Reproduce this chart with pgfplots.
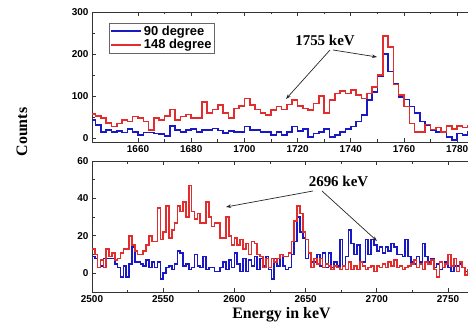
\documentclass[border=0pt]{standalone}
\usepackage{pgfplots}
\usepackage{pgfplotstable}
\pgfplotsset{compat=1.18}
\usepackage{fontspec}
\setmainfont{Liberation Sans}
\newfontfamily\timesf{Liberation Serif}
\usetikzlibrary{arrows.meta}

\definecolor{myblue}{RGB}{25,25,195}
\definecolor{myred}{RGB}{225,45,45}

\pgfplotsset{
 every axis/.append style={
  scale only axis,
  axis line style={draw=black!80, line width=0.9bp},
  tick style={draw=black!80, line width=0.8bp},
  major tick length=4bp, minor tick length=2.5bp,
  minor x tick num=1, minor y tick num=1,
  ticklabel style={font=\bfseries\fontsize{10}{12}\selectfont},
  /pgf/number format/assume math mode=true,
  /pgf/number format/1000 sep={},
 },
}

\pgfplotstableread{
k b r
0 9 13
1 8 10
2 3 3
3 4 7
4 8 3
5 8 13
6 8 9
7 8 11
8 5 7
9 3 8
10 -2 11
11 4 13
12 -2 13
13 5 20
14 14 15
15 6 12
16 6 10
17 5 10
18 4 12
19 7 15
20 3 20
21 6 17
22 3 17
23 6 35
24 -3 18
25 0 22
26 3 36
27 4 19
28 2 23
29 5 27
30 12 36
31 11 33
32 4 38
33 5 30
34 2 47
35 3 33
36 10 29
37 4 32
38 3 27
39 9 27
40 2 38
41 3 30
42 3 25
43 1 27
44 1 27
45 3 19
46 6 19
47 2 30
48 7 20
49 3 15
50 11 19
51 5 15
52 1 18
53 8 13
54 1 16
55 7 10
56 4 17
57 9 16
58 2 10
59 8 9
60 4 3
61 9 8
62 2 3
63 -3 8
64 8 6
65 4 8
66 10 10
67 4 9
68 2 9
69 3 11
70 10 17
71 17 28
72 30 36
73 22 32
74 19 22
75 8 18
76 11 11
77 6 3
78 6 8
79 10 5
80 4 8
81 11 3
82 3 5
83 11 4
84 3 2
85 6 4
86 4 3
87 18 2
88 4 4
89 9 2
90 23 6
91 16 2
92 10 4
93 15 2
94 6 6
95 6 4
96 18 2
97 10 3
98 18 4
99 15 1
100 12 4
101 14 3
102 11 5
103 14 3
104 12 6
105 16 4
106 14 7
107 10 3
108 10 4
109 9 2
110 18 3
111 9 4
112 6 5
113 5 7
114 9 3
115 6 5
116 16 2
117 9 6
118 6 5
119 8 7
120 3 2
121 5 -2
122 2 6
123 3 3
124 6 5
125 3 10
126 1 4
127 4 8
128 4 1
129 5 6
130 3 3
131 1 -1
132 2 2
133 2 2
134 2 2
135 2 2
136 2 2
137 2 2
138 2 2
}\bottomdata

\begin{document}
\begin{tikzpicture}
\useasboundingbox (0bp,0bp) rectangle (468bp,327bp);
\begin{scope}
\clip (0bp,0bp) rectangle (468bp,327bp);

\begin{axis}[at={(92bp,185bp)}, anchor=south west,
  width=391.8bp, height=130bp,
  xmin=1642.7, xmax=1790, ymin=-9.5, ymax=300,
  xtick={1660,1680,...,1780}, ytick={0,100,200,300},
  legend style={at={(0.0434,0.915)}, anchor=north west, draw=black!60,
    font=\bfseries\fontsize{13}{15}\selectfont, inner xsep=1bp, inner ysep=0.5bp,
    row sep=-1bp},
  legend cell align=left,
  legend image code/.code={\draw[#1, line width=1.7bp] (0bp,0bp) -- (30bp,0bp);},
]
\addplot[const plot, myblue, line width=1.6bp] coordinates {
(1642,43)(1644,31)(1646,15)(1648,19)(1650,15)(1652,16)(1654,13)(1656,21)(1658,15)(1660,7)
(1662,13)(1664,13)(1666,11)(1668,10)(1670,5)(1672,29)(1674,19)(1676,15)(1678,19)(1680,21)
(1682,15)(1684,19)(1686,19)(1688,23)(1690,18)(1692,12)(1694,16)(1696,15)(1698,15)(1700,27)
(1702,19)(1704,19)(1706,15)(1708,15)(1710,7)(1712,15)(1714,7)(1716,15)(1718,27)(1720,17)
(1722,21)(1724,3)(1726,11)(1728,15)(1730,21)(1732,3)(1734,7)(1736,15)(1738,21)(1740,27)
(1742,39)(1744,55)(1746,90)(1748,110)(1750,146)(1752,200)(1754,158)(1756,130)(1758,98)(1760,92)
(1762,75)(1764,59)(1766,39)(1768,31)(1770,19)(1772,15)(1774,15)(1776,3)(1778,-5)(1780,11)
(1782,7)(1784,15)(1786,15)(1788,15)(1790,15)};
\addlegendentry{90 degree}
\addplot[const plot, myred, line width=1.6bp] coordinates {
(1642,57)(1644,53)(1646,48)(1648,36)(1650,27)(1652,35)(1654,43)(1656,39)(1658,51)(1660,47)
(1662,39)(1664,19)(1666,47)(1668,43)(1670,52)(1672,68)(1674,43)(1676,51)(1678,56)(1680,47)
(1682,48)(1684,86)(1686,59)(1688,68)(1690,79)(1692,59)(1694,48)(1696,70)(1698,76)(1700,94)
(1702,78)(1704,68)(1706,60)(1708,55)(1710,67)(1712,75)(1714,68)(1716,80)(1718,90)(1720,76)
(1722,70)(1724,66)(1726,82)(1728,100)(1730,60)(1732,90)(1734,106)(1736,112)(1738,106)(1740,114)
(1742,102)(1744,94)(1746,106)(1748,122)(1750,150)(1752,243)(1754,217)(1756,127)(1758,102)(1760,75)
(1762,35)(1764,15)(1766,15)(1768,32)(1770,20)(1772,25)(1774,15)(1776,28)(1778,22)(1780,28)
(1782,25)(1784,30)(1786,30)(1788,30)(1790,30)};
\addlegendentry{148 degree}
\end{axis}

\begin{axis}[at={(92bp,35bp)}, anchor=south west,
  width=391.6bp, height=131bp,
  xmin=2500, xmax=2775, ymin=-10, ymax=60,
  xtick={2500,2550,...,2750}, ytick={0,20,40,60},
]
\addplot[const plot, myblue, line width=1.6bp] table[x expr=2500+2*\thisrow{k}, y=b] {\bottomdata};
\addplot[const plot, myred, line width=1.6bp] table[x expr=2500+2*\thisrow{k}, y=r] {\bottomdata};
\end{axis}
\end{scope}

\tikzset{ann/.style={-{Stealth[length=5bp,width=3.5bp]}, draw=black!85, line width=0.7bp}}
\node[font=\timesf\bfseries\fontsize{15}{18}\selectfont] at (325bp,287bp) {1755 keV};
\draw[ann] (330bp,277bp) -- (286bp,228bp);
\draw[ann] (333bp,277bp) -- (377bp,270bp);
\node[font=\timesf\bfseries\fontsize{15}{18}\selectfont] at (338.5bp,146bp) {2696 keV};
\draw[ann] (313bp,136bp) -- (226bp,120bp);
\draw[ann] (322bp,136bp) -- (377bp,86bp);
\node[rotate=90, font=\timesf\bfseries\fontsize{16}{19}\selectfont] at (22bp,195bp) {Counts};
\node[font=\timesf\bfseries\fontsize{16}{19}\selectfont] at (281.5bp,12bp) {Energy in keV};
\end{tikzpicture}
\end{document}
